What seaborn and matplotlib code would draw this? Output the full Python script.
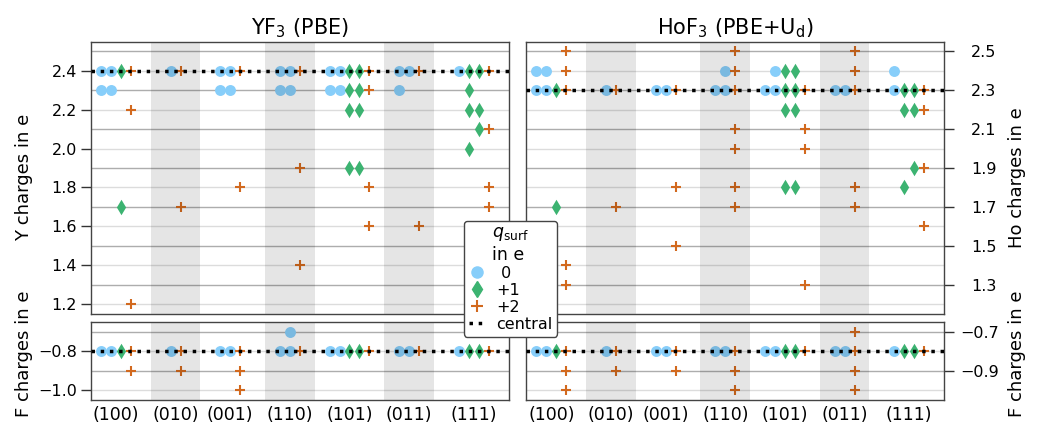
import numpy as np
import pandas as pd
import matplotlib
matplotlib.use("Agg")
import matplotlib.pyplot as plt
import seaborn as sns
from matplotlib.lines import Line2D

facets = ["(100)", "(010)", "(001)", "(110)", "(101)", "(011)", "(111)"]
shaded = ["(010)", "(110)", "(011)"]
# surface charge of every slab column in each facet
lane_q = [[0, 0, 1, 2], [0, 2], [0, 0, 2], [0, 0, 2], [0, 0, 1, 1, 2], [0, 0, 2], [0, 1, 1, 2]]

yf3_cation = [
    [[2.4, 2.3], [2.4, 2.3], [2.4, 1.7], [2.4, 2.2, 1.2]],
    [[2.4], [2.4, 1.7]],
    [[2.4, 2.3], [2.4, 2.3], [2.4, 1.8]],
    [[2.4, 2.3], [2.4, 2.3], [2.4, 1.9, 1.4]],
    [[2.4, 2.3], [2.4, 2.3], [2.4, 2.3, 2.2, 1.9], [2.4, 2.3, 2.2, 1.9], [2.4, 2.3, 1.8, 1.6]],
    [[2.4, 2.3], [2.4], [2.4, 1.6]],
    [[2.4], [2.4, 2.3, 2.2, 2.0], [2.4, 2.2, 2.1], [2.4, 2.1, 1.8, 1.7]],
]
yf3_anion = [
    [[-0.8], [-0.8], [-0.8], [-0.8, -0.9]],
    [[-0.8], [-0.8, -0.9]],
    [[-0.8], [-0.8], [-0.8, -0.9, -1.0]],
    [[-0.8], [-0.8, -0.7], [-0.8]],
    [[-0.8], [-0.8], [-0.8], [-0.8], [-0.8]],
    [[-0.8], [-0.8], [-0.8]],
    [[-0.8], [-0.8], [-0.8], [-0.8]],
]
hof3_cation = [
    [[2.4, 2.3], [2.4, 2.3], [2.3, 1.7], [2.5, 2.4, 2.3, 1.4, 1.3]],
    [[2.3], [2.3, 1.7]],
    [[2.3], [2.3], [2.3, 1.8, 1.5]],
    [[2.3], [2.4, 2.3], [2.5, 2.4, 2.3, 2.1, 2.0, 1.8, 1.7]],
    [[2.3], [2.4, 2.3], [2.4, 2.3, 2.2, 1.8], [2.4, 2.3, 2.2, 1.8], [2.3, 2.1, 2.0, 1.3]],
    [[2.3], [2.3], [2.5, 2.4, 2.3, 1.8, 1.7]],
    [[2.4, 2.3], [2.3, 2.2, 1.8], [2.3, 2.2, 1.9], [2.3, 2.2, 1.9, 1.6]],
]
hof3_anion = [
    [[-0.8], [-0.8], [-0.8], [-0.8, -0.9, -1.0]],
    [[-0.8], [-0.8, -0.9]],
    [[-0.8], [-0.8], [-0.8, -0.9]],
    [[-0.8], [-0.8], [-0.8, -0.9, -1.0]],
    [[-0.8], [-0.8], [-0.8], [-0.8], [-0.8]],
    [[-0.8], [-0.8], [-0.7, -0.8, -0.9, -1.0]],
    [[-0.8], [-0.8], [-0.8], [-0.8]],
]
central_yf3 = [2.4, -0.8]
central_hof3 = [2.3, -0.8]

titles = ["YF$_3$ (PBE)", "HoF$_3$ (PBE+U$_\\mathrm{d}$)"]
ylabels = [["Y charges in e", "F charges in e"], ["Ho charges in e", "F charges in e"]]
q_names = {0: " 0", 1: "+1", 2: "+2"}

# lane x positions: each facet gets 6 slots, lanes centred in them
lane_x = []
for k, qs in enumerate(lane_q):
    n = len(qs)
    lane_x.append([6 * k + (6 - n) // 2 + j for j in range(n)])
tick_x = [np.mean(xs) for xs in lane_x]

rows = []
for comp, parts in [("YF3", [yf3_cation, yf3_anion]), ("HoF3", [hof3_cation, hof3_anion])]:
    for part, table in zip(["cation", "anion"], parts):
        for k, lanes in enumerate(table):
            for j, vals in enumerate(lanes):
                for v in vals:
                    rows.append({"comp": comp, "part": part, "x": lane_x[k][j],
                                 "q": lane_q[k][j], "charge": v})
df = pd.DataFrame(rows)

styles = {
    0: dict(marker="o", color="#87cefa", s=62, linewidth=0),
    1: dict(marker="d", color="#3cb371", s=62, linewidth=0),
    2: dict(marker="+", color="#d2691e", s=55, linewidth=1.5),
}

sns.set_style("ticks")
plt.rcParams["font.family"] = ["DejaVu Sans"]
plt.rcParams["text.color"] = "black"
plt.rcParams["axes.labelcolor"] = "black"
plt.rcParams["xtick.color"] = "black"
plt.rcParams["ytick.color"] = "black"

fig = plt.figure(figsize=(10.37, 4.24), dpi=100)
gs = fig.add_gridspec(2, 2, height_ratios=[1.4, 0.4], left=0.0878, right=0.9103,
                      top=0.9017, bottom=0.0566, hspace=0.049, wspace=0.043)

light, dark = "#dcdcdc", "#adadad"

for c, comp in enumerate(["YF3", "HoF3"]):
    centrals = central_yf3 if comp == "YF3" else central_hof3
    for r, part in enumerate(["cation", "anion"]):
        ax = fig.add_subplot(gs[r, c])
        sub = df[(df["comp"] == comp) & (df["part"] == part)]
        for q, kw in styles.items():
            sns.scatterplot(data=sub[sub["q"] == q], x="x", y="charge", ax=ax,
                            legend=False, zorder=2, **kw)
        for k, f in enumerate(facets):
            if f in shaded:
                ax.axvspan(tick_x[k] - 2.5, tick_x[k] + 2.5, color="k", alpha=0.1,
                           lw=0, zorder=2.5)
        ax.axhline(centrals[r], color="k", ls=":", lw=2.5, zorder=5)

        ax.set_xlim(0, 42)
        if r == 0:
            ax.set_ylim(1.15, 2.55)
            even = np.arange(12, 25, 2) / 10
            odd = np.arange(13, 26, 2) / 10
        else:
            ax.set_ylim(-1.05, -0.65)
            even = np.array([-1.0, -0.8])
            odd = np.array([-0.9, -0.7])

        if c == 0:
            major, minor = even, odd
            gmaj, gmin = light, dark
        else:
            major, minor = odd, even
            gmaj, gmin = dark, light
            ax.yaxis.tick_right()
            ax.yaxis.set_label_position("right")
        ax.set_yticks(major)
        ax.set_yticks(minor, minor=True)
        ax.set_yticklabels([f"{v:.1f}".replace("-", "\u2212") for v in major])
        ax.set_axisbelow(True)
        ax.grid(axis="y", which="major", color=gmaj, lw=1)
        ax.grid(axis="y", which="minor", color=gmin, lw=1)

        pad = 2.5 if c == 0 else (12 if r == 0 else 4)
        ax.tick_params(axis="y", which="major", length=7.5, width=1, color="#333",
                       labelsize=11.5, pad=pad)
        ax.tick_params(axis="y", which="minor", length=0)
        ax.set_xticks(tick_x)
        if r == 1:
            ax.set_xticklabels(facets)
        else:
            ax.set_xticklabels([])
            ax.set_title(titles[c], fontsize=15, pad=5)
        ax.tick_params(axis="x", length=0, labelsize=12.5, pad=4)
        ax.set_xlabel("")
        ax.set_ylabel(ylabels[c][r], fontsize=13)
        ly = 0.5 if r == 0 else 0.6
        if c == 0:
            ax.yaxis.set_label_coords(-0.139, ly)
        else:
            ax.yaxis.set_label_coords(1.153, ly)
        for sp in ax.spines.values():
            sp.set_color("#444")
            sp.set_linewidth(1)

handles = [
    Line2D([], [], marker="o", color="#87cefa", ls="none", markersize=8),
    Line2D([], [], marker="d", color="#3cb371", ls="none", markersize=8),
    Line2D([], [], marker="+", color="#d2691e", ls="none", markersize=8, mew=1.5),
    Line2D([], [], color="k", ls=":", lw=2.5),
]
fig.legend(handles, [q_names[0], q_names[1], q_names[2], "central"],
           title="$q_\\mathrm{surf}$\nin e", loc="center", bbox_to_anchor=(0.4923, 0.343),
           fontsize=11.5, title_fontsize=12.5, handlelength=1.0, framealpha=1,
           edgecolor="#444", fancybox=True, borderpad=0.3, labelspacing=0.12,
           handletextpad=0.7)

fig.savefig("out.png", dpi=100)
